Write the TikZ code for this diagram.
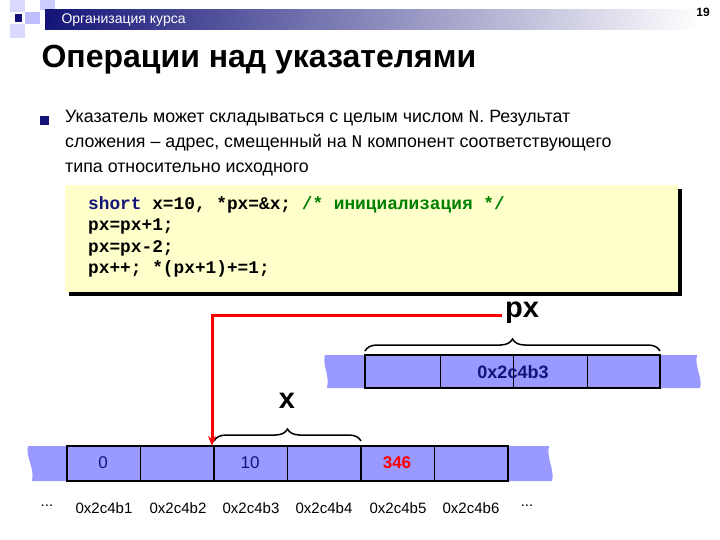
\documentclass[tikz,border=0pt]{standalone}
\usepackage{fontspec}
\setmainfont{Liberation Sans}
\newfontfamily\codefont{Liberation Mono}
\usetikzlibrary{decorations.pathreplacing,arrows.meta}
\definecolor{cell}{RGB}{153,153,255}
\definecolor{navyb}{RGB}{20,20,120}
\definecolor{codebg}{RGB}{255,255,204}
\definecolor{cmt}{RGB}{0,128,0}
\tikzset{
 thincell/.style={draw=black,line width=0.8pt},
 boldcell/.style={draw=black,line width=2.8pt},
 celltext/.style={font=\fontsize{17}{17}\selectfont,text=navyb},
 addr/.style={font=\fontsize{15}{15}\selectfont},
 brc/.style={decorate,decoration={brace,amplitude=12pt},line width=1.5pt},
 lbl/.style={font=\bfseries\fontsize{29}{29}\selectfont},
}
\begin{document}
\begin{tikzpicture}[x=1pt,y=-1pt]
\useasboundingbox (0,0) rectangle (720,540);
\fill[white] (0,0) rectangle (720,540);
% header decoration
\fill[blue!15] (10,0) rectangle (25,12);
\fill[blue!25] (25,12) rectangle (40,24);
\fill[blue!15] (10,24) rectangle (25,38);
\fill[blue!20] (40,0) rectangle (55,10);
\fill[navyb] (15,14) rectangle (22,22);
\shade[left color=navyb, right color=white] (45,10) rectangle (700,30);
\node[anchor=west,text=white,font=\fontsize{14}{14}\selectfont] (hdr) at (58,20) {Организация курса};
\node[font=\bfseries\fontsize{12}{12}\selectfont] (pg) at (703,12) {19};
\node[anchor=west,font=\bfseries\fontsize{32}{32}\selectfont] (title) at (38,60) {Операции над указателями};
% bullet
\fill[navyb] (40,116) rectangle (49,125);
\node[anchor=north west,align=left,font=\fontsize{17.8}{25}\selectfont,inner sep=0] (txt) at (65,110)
 {Указатель может складываться с целым числом {\codefont N}. Результат\\
  сложения – адрес, смещенный на {\codefont N} компонент соответствующего\\
  типа относительно исходного};
% code box
\fill[black] (69,189) rectangle (682,296);
\fill[codebg] (65,185) rectangle (678,292);
\node[anchor=north west,align=left,inner sep=0,font=\codefont\bfseries\fontsize{17.8}{21.5}\selectfont] (code) at (88,196)
 {{\color{navyb}short} x=10, *px=\&x; {\color{cmt}/* инициализация */}\\
  px=px+1;\\ px=px-2;\\ px++; *(px+1)+=1;};
% upper strip
\fill[cell] (325,355) .. controls (322,365) and (330,375) .. (327,388) -- (700,388)
  .. controls (703,378) and (694,366) .. (697,355) -- cycle;
\foreach \a in {440,513,587} \draw[thincell] (\a,355) -- (\a,388);
\draw[boldcell] (365,355) rectangle (660,388);
\node[celltext,font=\bfseries\fontsize{18}{18}\selectfont] (pv) at (513,372) {0x2c4b3};
% lower strip
\fill[cell] (28,446) .. controls (25,456) and (35,468) .. (32,481) -- (552,481)
  .. controls (555,470) and (546,458) .. (549,446) -- cycle;
\foreach \a in {140.5,287,434.5} \draw[thincell] (\a,446) -- (\a,481);
\draw[boldcell] (67,446) rectangle (508,481);
\foreach \a in {214,361} \draw[boldcell] (\a,446) -- (\a,481);
\node[celltext] (c0) at (103,463) {0};
\node[celltext] (c10) at (250,463) {10};
\node[celltext,text=red,font=\bfseries\fontsize{17}{17}\selectfont] (c346) at (397,463) {346};
% addresses
\node[addr] (d1) at (47,506) {...};
\foreach \i/\a in {1/104,2/178,3/251,4/324,5/398,6/471}
  \node[addr] (a\i) at (\a,508) {0x2c4b\i};
\node[addr] (d2) at (527,506) {...};
% braces
\coordinate (bx1) at (214,441); \coordinate (bx2) at (361,441);
\draw[brc] (bx1) -- (bx2);
\node[lbl] (x) at (287,401) {x};
\coordinate (bp1) at (365,351); \coordinate (bp2) at (660,351);
\draw[brc] (bp1) -- (bp2);
\node[lbl] (px) at (522,313) {px};
% red pointer
\coordinate (tgt) at (212,446);
\draw[red,line width=3pt,-{Stealth[length=10pt,width=8pt]}] (px.west|-0,315) -- (212,315) -- (tgt);
\end{tikzpicture}
\end{document}
